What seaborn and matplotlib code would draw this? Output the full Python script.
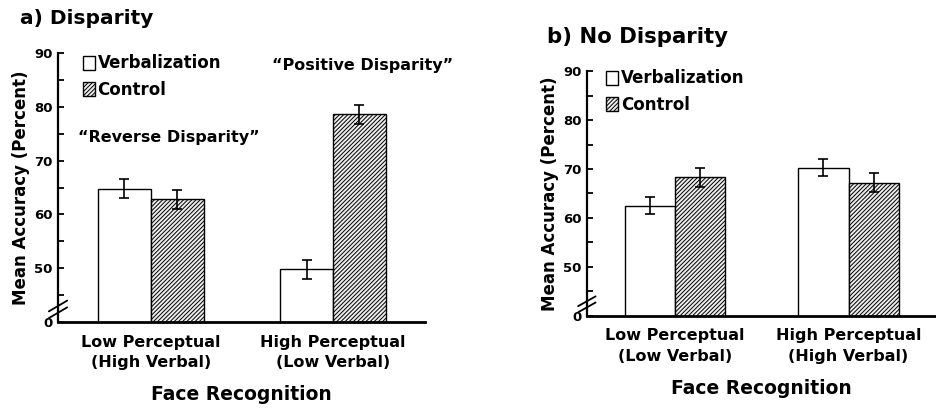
import pandas as pd
import matplotlib.pyplot as plt
import seaborn as sns
from matplotlib.patches import Patch

# Data
conditions = ["Verbalization", "Control"]

disp_groups = ["Low Perceptual\n(High Verbal)", "High Perceptual\n(Low Verbal)"]
disp_verbal = [64.8, 49.8]
disp_control = [62.8, 78.6]
disp_verbal_err = [1.7, 1.8]
disp_control_err = [1.7, 1.8]

nodisp_groups = ["Low Perceptual\n(Low Verbal)", "High Perceptual\n(High Verbal)"]
nodisp_verbal = [62.5, 70.3]
nodisp_control = [68.3, 67.2]
nodisp_verbal_err = [1.7, 1.8]
nodisp_control_err = [1.9, 1.9]

ytick_vals = [40, 50, 60, 70, 80, 90]
ytick_labels = ["0", "50", "60", "70", "80", "90"]

sns.set_style("ticks")
plt.rcParams["font.family"] = ["DejaVu Sans"]
plt.rcParams["font.weight"] = "bold"
plt.rcParams["text.color"] = "black"
plt.rcParams["axes.labelcolor"] = "black"
plt.rcParams["xtick.color"] = "black"
plt.rcParams["ytick.color"] = "black"
plt.rcParams["axes.edgecolor"] = "black"
plt.rcParams["hatch.color"] = "#3a3a3a"
plt.rcParams["hatch.linewidth"] = 0.7

CTRL = "#ececec"
HATCH = "/" * 8

fig = plt.figure(figsize=(9.36, 4.13), dpi=100)
ax1 = fig.add_axes([0.062, 0.220, 0.392, 0.652])
ax2 = fig.add_axes([0.627, 0.235, 0.373, 0.593])


def draw_panel(ax, groups, verbal, control, verbal_err, control_err, leg_anchor):
    df = pd.DataFrame({
        "group": groups * 2,
        "cond": [conditions[0]] * 2 + [conditions[1]] * 2,
        "acc": verbal + control,
    })
    sns.barplot(data=df, x="group", y="acc", hue="cond", order=groups,
                hue_order=conditions, palette=["white", CTRL],
                errorbar=None, width=0.58, edgecolor="black", linewidth=1.0,
                legend=False, ax=ax)
    errs = verbal_err + control_err
    for i, bar in enumerate(ax.patches[:4]):
        if i >= 2:
            bar.set_hatch(HATCH)
        cx = bar.get_x() + bar.get_width() / 2
        ax.errorbar(cx, bar.get_height(), yerr=errs[i], color="black",
                    capsize=3.5, elinewidth=1.2, capthick=1.2)
    ax.set_ylim(40, 90)
    ax.set_xlim(-0.51, 1.505)
    ax.set_yticks(ytick_vals)
    ax.set_yticklabels(ytick_labels, fontsize=9.5, fontweight="bold")
    ax.set_yticks([45, 55, 65, 75, 85], minor=True)
    ax.tick_params(axis="y", which="both", direction="in", length=4, width=1.3,
                   pad=4)
    ax.tick_params(axis="x", length=0, labelsize=11.5, pad=9)
    for lab in ax.get_xticklabels():
        lab.set_fontweight("bold")
        lab.set_linespacing(1.45)
    ax.set_xlabel("Face Recognition", fontsize=13.5, fontweight="bold",
                  labelpad=11)
    ax.set_ylabel("Mean Accuracy (Percent)", fontsize=12, fontweight="bold",
                  labelpad=3)
    sns.despine(ax=ax)
    ax.spines["left"].set_linewidth(1.6)
    ax.spines["bottom"].set_linewidth(2.0)
    # axis break marks
    for dy in (0.035, 0.06):
        ax.plot([-0.025, 0.025], [dy - 0.02, dy + 0.02], transform=ax.transAxes,
                color="black", lw=1.3, clip_on=False)
    handles = [Patch(facecolor="white", edgecolor="black", label=conditions[0]),
               Patch(facecolor=CTRL, edgecolor="black", hatch=HATCH,
                     label=conditions[1])]
    ax.legend(handles=handles, loc="upper left", bbox_to_anchor=leg_anchor,
              frameon=False, handlelength=0.75, handleheight=0.9,
              handletextpad=0.15, labelspacing=0.5,
              prop={"size": 12, "weight": "bold"})


draw_panel(ax1, disp_groups, disp_verbal, disp_control,
           disp_verbal_err, disp_control_err, (0.026, 1.05))
draw_panel(ax2, nodisp_groups, nodisp_verbal, nodisp_control,
           nodisp_verbal_err, nodisp_control_err, (0.011, 1.068))

ax1.text(0.10, 74.3, "\u201cReverse Disparity\u201d", fontsize=11.5,
         fontweight="bold", ha="center", va="center")
ax1.text(1.16, 87.6, "\u201cPositive Disparity\u201d", fontsize=11.5,
         fontweight="bold", ha="center", va="center")

fig.text(0.021, 0.955, "a) Disparity", fontsize=14.5, fontweight="bold",
         va="center")
fig.text(0.584, 0.91, "b) No Disparity", fontsize=15.3, fontweight="bold",
         va="center")

plt.savefig("out.png", dpi=100)
